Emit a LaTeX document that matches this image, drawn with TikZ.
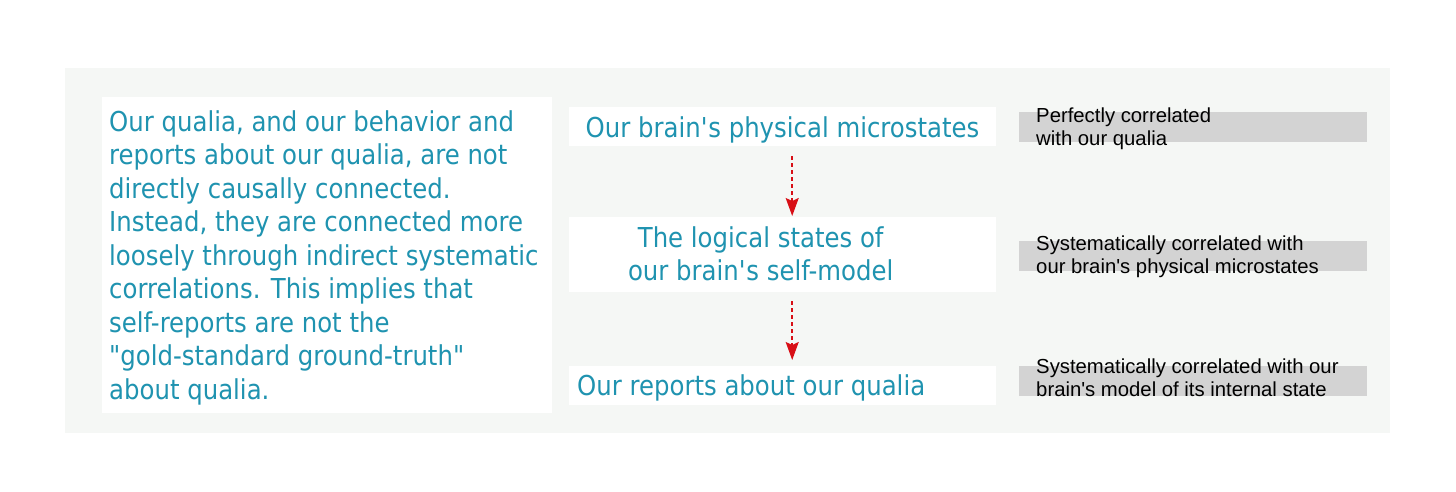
\documentclass[tikz,border=0pt]{standalone}
\usepackage{fontspec}
\setmainfont{Liberation Sans}
\newfontfamily\dvfont[FakeStretch=0.89]{DejaVu Sans}
\usetikzlibrary{arrows.meta}
\definecolor{teal1}{HTML}{1F93B0}
\definecolor{panelbg}{HTML}{F5F7F5}
\definecolor{graybar}{HTML}{D3D3D3}
\definecolor{arrowred}{HTML}{D80F16}
\tikzset{
  whitebox/.style={draw=none, fill=white, inner sep=0pt},
  graybox/.style={draw=none, fill=graybar, inner sep=0pt},
  bluetext/.style={inner sep=0pt, text=teal1, font=\dvfont\fontsize{27.4}{33.5}\selectfont},
  blacktext/.style={inner sep=0pt, text=black, align=left, font=\fontsize{20.3}{23.4}\selectfont},
  flowarrow/.style={draw=arrowred, line width=1.6pt, dash pattern=on 4pt off 3pt,
    -{Stealth[length=18pt, width=13pt, inset=3pt]}}
}
\begin{document}
\begin{tikzpicture}[x=1pt, y=-1pt]
\useasboundingbox (0,0) rectangle (1456,492);
% panel
\node[fill=panelbg, inner sep=0pt, minimum width=1325pt, minimum height=365pt, anchor=north west] (panel) at (65,68) {};
% left box
\node[whitebox, minimum width=450pt, minimum height=316pt, anchor=north west] (leftbox) at (102,97) {};
\node[bluetext, align=left, anchor=north west] (lefttext) at (109,110.2) {Our qualia, and our behavior and\\reports about our qualia, are not\\directly causally connected.\\Instead, they are connected more\\loosely through indirect systematic\\correlations. This implies that\\self-reports are not the\\"gold-standard ground-truth"\\about qualia.};
% middle boxes
\node[whitebox, minimum width=427pt, minimum height=39pt, anchor=north west] (b1) at (569,107) {};
\node[whitebox, minimum width=427pt, minimum height=75pt, anchor=north west] (b2) at (569,217) {};
\node[whitebox, minimum width=427pt, minimum height=39pt, anchor=north west] (b3) at (569,366) {};
\node[bluetext, anchor=base] (t1) at (782.5,138) {Our brain\textquotesingle s physical microstates};
\node[bluetext, align=center, anchor=north] (t2) at (760.7,226.2) {The logical states of\\our brain\textquotesingle s self-model};
\node[bluetext, anchor=base west] (t3) at (577,395.5) {Our reports about our qualia};
% arrows
\draw[flowarrow, shorten <=10pt, shorten >=1pt] ([xshift=9.5pt]b1.south) -- ([xshift=9.5pt]b2.north);
\draw[flowarrow, shorten <=9pt, shorten >=6pt] ([xshift=9.5pt]b2.south) -- ([xshift=9.5pt]b3.north);
% right gray bars
\node[graybox, minimum width=348pt, minimum height=30pt, anchor=north west] (g1) at (1019,112) {};
\node[graybox, minimum width=348pt, minimum height=30pt, anchor=north west] (g2) at (1019,241) {};
\node[graybox, minimum width=348pt, minimum height=30pt, anchor=north west] (g3) at (1019,366) {};
\node[blacktext, anchor=north west] (r1) at (1036,107.5) {Perfectly correlated\\with our qualia};
\node[blacktext, anchor=north west] (r2) at (1036,235.2) {Systematically correlated with\\our brain\textquotesingle s physical microstates};
\node[blacktext, anchor=north west] (r3) at (1036,358.2) {Systematically correlated with our\\brain\textquotesingle s model of its internal state};
\end{tikzpicture}
\end{document}
